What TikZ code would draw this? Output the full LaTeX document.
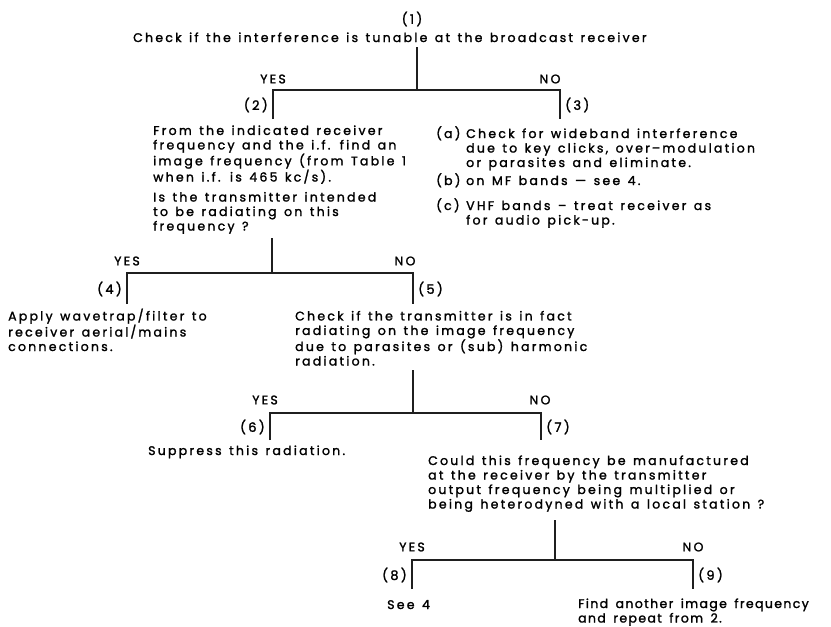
\documentclass[tikz,border=0pt]{standalone}
\usepackage{fontspec}
\setmainfont{Poppins}[LetterSpace=18,FakeBold=1.6]
\newcommand\wsp{\spaceskip=7.5pt plus 1pt minus 1pt\relax}
\newcommand\tsp{\hspace{2pt}}
\begin{document}
\begin{tikzpicture}[x=1pt,y=-1pt,
  branch/.style={line width=1.5pt, draw=black!88, line join=miter},
  ans/.style={inner sep=0pt, font=\fontsize{12.5}{14.5}\selectfont},
  num/.style={inner sep=0pt, font=\fontsize{13}{14.5}\selectfont},
  % multi-line blocks are placed by the baseline of their last line
  txt/.style={inner sep=0pt, anchor=base west, align=left,
              font=\fontsize{12.5}{14.5}\selectfont\wsp}]
\useasboundingbox (0,0) rectangle (831,627);
\fill[white] (0,0) rectangle (831,627);

% ---- level 1 -------------------------------------------------------
\node[num] (n1) at (412,19) {(1)};
\node[txt] (q1) at (133,42) {Check if the interference is tunable at the broadcast receiver};
\coordinate (s1) at (417,47);
\coordinate (j1) at (417,90);
\coordinate (c1l) at (273,90);
\coordinate (c1r) at (560,90);
\coordinate (e1l) at (273,119);
\coordinate (e1r) at (560,119);
\draw[branch] (s1) -- (j1);
\draw[branch] (e1l) -- (c1l) -- (c1r) -- (e1r);
\node[ans] (y1) at (273,79) {YES};
\node[ans] (no1) at (550,79) {NO};
\node[num, anchor=east] (n2) at (268,105) {(2)};
\node[num, anchor=west] (n3) at (565,105) {(3)};

\node[txt] (q2) at (153,230.5) {From the indicated receiver\\
frequency and the i.f. find an\\
image frequency (from Table 1\\
when i.f. is 465 kc/s).\\[5.5pt]
Is the transmitter intended\\
to be radiating on this\\
frequency ?};

\node[txt] (a3) at (436,138) {(a)};
\node[txt] (a3t) at (466,167) {Check for wideband interference\\
due to key clicks, over\tsp–\tsp modulation\\
or parasites and eliminate.};
\node[txt] (b3) at (436,185) {(b)};
\node[txt] (b3t) at (466,185) {on MF bands — see 4.};
\node[txt] (c3) at (436,210) {(c)};
\node[txt] (c3t) at (466,224.5) {VHF bands – treat receiver as\\
for audio pick-up.};

% ---- level 2 -------------------------------------------------------
\coordinate (s2) at (272,238);
\coordinate (j2) at (272,273);
\coordinate (c2l) at (127,273);
\coordinate (c2r) at (413,273);
\coordinate (e2l) at (127,304);
\coordinate (e2r) at (413,304);
\draw[branch] (s2) -- (j2);
\draw[branch] (e2l) -- (c2l) -- (c2r) -- (e2r);
\node[ans] (y2) at (127,261) {YES};
\node[ans] (no2) at (405,261) {NO};
\node[num, anchor=east] (n4) at (122,289) {(4)};
\node[num, anchor=west] (n5) at (418,289) {(5)};

\node[txt] (r4) at (8,351) {Apply wavetrap/filter to\\
receiver aerial\tsp/\tsp mains\\
connections.};
\node[txt] (q5) at (295,365.5) {Check if the transmitter is in fact\\
radiating on the image frequency\\
due to parasites or (sub) harmonic\\
radiation.};

% ---- level 3 -------------------------------------------------------
\coordinate (s3) at (413,370);
\coordinate (j3) at (413,413);
\coordinate (c3l) at (270,413);
\coordinate (c3r) at (541,413);
\coordinate (e3l) at (270,440);
\coordinate (e3r) at (541,440);
\draw[branch] (s3) -- (j3);
\draw[branch] (e3l) -- (c3l) -- (c3r) -- (e3r);
\node[ans] (y3) at (265,400) {YES};
\node[ans] (no3) at (540,400) {NO};
\node[num, anchor=east] (n6) at (265,427) {(6)};
\node[num, anchor=west] (n7) at (546,427) {(7)};

\node[txt] (r6) at (148,455) {Suppress this radiation.};
\node[txt] (q7) at (428,508.5) {Could this frequency be manufactured\\
at the receiver by the transmitter\\
output frequency being multiplied or\\
being heterodyned with a local station ?};

% ---- level 4 -------------------------------------------------------
\coordinate (s4) at (555,520);
\coordinate (j4) at (555,560);
\coordinate (c4l) at (412,560);
\coordinate (c4r) at (693,560);
\coordinate (e4l) at (412,589);
\coordinate (e4r) at (693,589);
\draw[branch] (s4) -- (j4);
\draw[branch] (e4l) -- (c4l) -- (c4r) -- (e4r);
\node[ans] (y4) at (412,547) {YES};
\node[ans] (no4) at (693,547) {NO};
\node[num, anchor=east] (n8) at (407,575) {(8)};
\node[num, anchor=west] (n9) at (698,575) {(9)};

\node[txt] (r8) at (387,609) {See 4};
\node[txt, font=\fontsize{12.5}{14.5}\selectfont\addfontfeature{LetterSpace=11}\wsp]
  (r9) at (578,622.5) {Find another image frequency\\
and repeat from 2.};
\end{tikzpicture}
\end{document}
